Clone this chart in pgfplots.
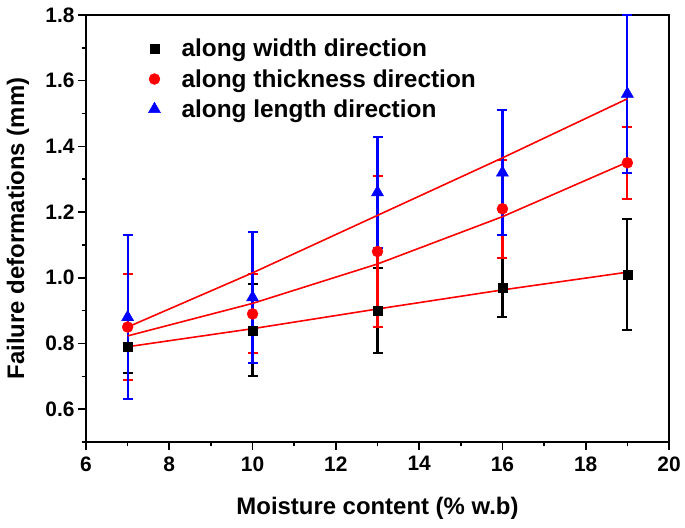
\documentclass[border=0pt]{standalone}
\usepackage{fontspec}
\setmainfont{Liberation Sans}
\usepackage{pgfplots}
\pgfplotsset{compat=1.18}
\definecolor{myred}{RGB}{255,0,0}
\definecolor{myblue}{RGB}{0,0,255}
\pgfplotsset{
  myerr/.style={error bars/.cd, y dir=both, y explicit,
    error bar style={line width=2.2bp, solid},
    error mark options={rotate=90, mark size=5bp, line width=2bp}},
}
\begin{document}
\begin{tikzpicture}
\begin{axis}[
  scale only axis,
  width=583bp, height=427bp,
  xmin=6, xmax=20, ymin=0.5, ymax=1.8,
  xtick={6,8,...,20}, minor xtick={7,9,...,19},
  ytick={0.6,0.8,...,1.81}, minor ytick={0.5,0.7,...,1.71},
  tick align=outside,
  xtick pos=bottom, ytick pos=left,
  major tick length=8bp, minor tick length=4bp,
  every tick/.style={black, line width=1.6bp},
  axis line style={line width=1.8bp},
  /pgf/number format/assume math mode=true,
  xticklabel={\pgfmathprintnumber{\tick}},
  yticklabel={\pgfmathprintnumber[fixed, fixed zerofill, precision=1]{\tick}},
  ticklabel style={font=\fontsize{21}{25}\selectfont\bfseries},
  xticklabel style={yshift=-3bp},
  xlabel={Moisture content (\% w.b)},
  ylabel={Failure deformations (mm)},
  label style={font=\fontsize{24}{28}\selectfont\bfseries},
  xlabel style={at={(axis description cs:0.5,-0.1546)}, anchor=center},
  ylabel style={at={(axis description cs:-0.1166,0.5)}, anchor=center},
  legend style={at={(axis description cs:0.1016,0.953)}, anchor=north west, draw=none, fill=none,
    font=\fontsize{24.5}{28}\selectfont\bfseries, row sep=7bp, column sep=19bp},
  legend cell align=left,
]
% along width direction
\addplot[only marks, mark=square*, mark size=4.5bp, black, myerr]
  coordinates {(7,0.79) +- (0,0.08) (10,0.84) +- (0,0.14) (13,0.90) +- (0,0.13) (16,0.97) +- (0,0.09) (19,1.01) +- (0,0.17)};
\addlegendentry{along width direction}
% along thickness direction
\addplot[only marks, mark=*, mark size=5.5bp, myred, myerr]
  coordinates {(7,0.85) +- (0,0.16) (10,0.89) +- (0,0.12) (13,1.08) +- (0,0.23) (16,1.21) +- (0,0.15) (19,1.35) +- (0,0.11)};
\addlegendentry{along thickness direction}
% along length direction
\addplot[only marks, mark=triangle*, mark size=7bp, myblue, myerr]
  coordinates {(7,0.88) +- (0,0.25) (10,0.94) +- (0,0.20) (13,1.26) +- (0,0.17) (16,1.32) +- (0,0.19) (19,1.56) +- (0,0.24)};
\addlegendentry{along length direction}
% fitted lines
\addplot[myred, line width=1.6bp, forget plot] coordinates {(7,0.79) (10,0.845) (13,0.905) (16,0.963) (19,1.017)};
\addplot[myred, line width=1.6bp, forget plot] coordinates {(7,0.823) (10,0.922) (13,1.042) (16,1.186) (19,1.352)};
\addplot[myred, line width=1.6bp, forget plot] coordinates {(7,0.85) (10,1.015) (13,1.19) (16,1.365) (19,1.545)};
\end{axis}
\pgfresetboundingbox
\path (current axis.south west) ++(-86bp,-86bp) rectangle ([xshift=16bp,yshift=15bp]current axis.north east);
\end{tikzpicture}
\end{document}
